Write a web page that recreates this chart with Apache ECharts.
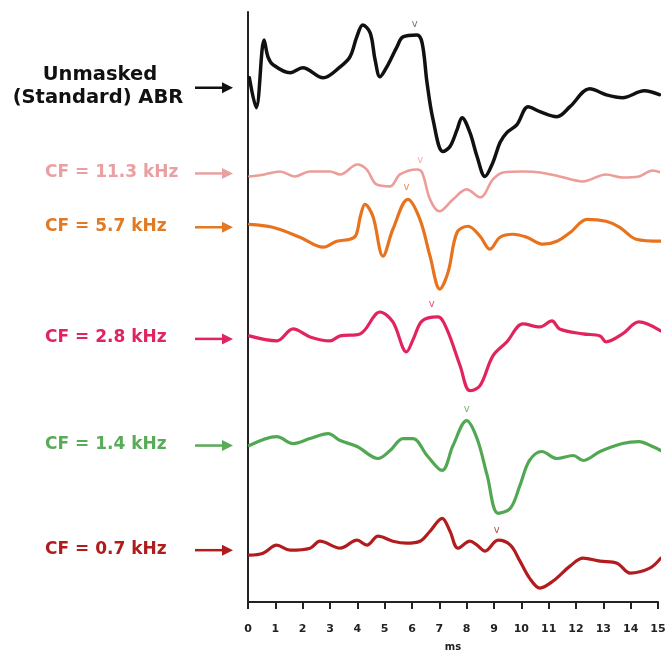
<!DOCTYPE html>
<html><head><meta charset="utf-8">
<script src="https://cdn.jsdelivr.net/npm/echarts@6/dist/echarts.min.js"></script>
<style>html,body{margin:0;padding:0;background:#fff}#c{width:672px;height:657px}</style>
</head><body><div id="c"></div>
<script>
// ---- data (time in ms, amplitude in arbitrary units, positive up) ----
var traceNames = ['Unmasked (Standard) ABR','CF = 11.3 kHz','CF = 5.7 kHz','CF = 2.8 kHz','CF = 1.4 kHz','CF = 0.7 kHz'];
var traceOffsets = [516, 430, 376, 264, 157, 52];
var traceColors = ['#111111','#ec9d99','#e8731f','#e2245e','#52a852','#b21c1e'];
var labelColors = ['#111111','#eaa0a3','#e07a25','#e0245f','#58ab58','#b01c1c'];

var t0 = [0.05,0.3,0.59,0.73,0.92,1.54,2.0,2.75,3.37,3.73,3.98,4.2,4.47,4.65,4.83,5.08,5.45,5.67,6.18,6.37,6.55,6.77,7.13,7.39,7.65,7.83,8.12,8.38,8.67,8.96,9.22,9.47,9.84,10.25,10.68,11.3,11.78,12.5,13.1,13.7,14.5,15.05];
var v0 = [10,-20,48,31,23,15,20,10,21,31,51,63,55,28,11,21,41,51,53,45,5,-32,-64,-59,-42,-30,-45,-69,-89,-75,-55,-45,-37,-19,-24,-29,-19,-1,-7,-10,-3,-7];

var t1 = [0.05,0.6,1.17,1.7,2.27,3.0,3.37,4.0,4.34,4.7,5.2,5.56,6.18,6.37,6.66,7.0,7.5,8.0,8.5,8.96,9.33,10.06,10.7,11.4,12.25,13.1,13.7,14.3,14.8,15.1];
var v1 = [-3,-1,2,-3,2,2,-1,9,4,-11,-13,-1,4,1,-26,-38,-26,-16,-24,-6,1,2,1,-3,-8,-1,-4,-3,3,1];

var t2 = [0.05,0.9,1.9,2.75,3.25,3.73,3.95,4.12,4.28,4.57,4.94,5.3,5.85,6.29,6.66,7.02,7.32,7.65,8.05,8.49,8.85,9.22,9.7,10.2,10.8,11.3,11.8,12.4,13.1,13.6,14.2,15.1];
var v2 = [3,0,-10,-20,-14,-12,-8,12,23,11,-29,-2,28,8,-29,-62,-45,-5,1,-9,-22,-10,-7,-10,-17,-14,-5,8,6,0,-12,-14];

var t3 = [0.05,1.05,1.65,2.27,3.0,3.37,4.1,4.83,5.3,5.8,6.05,6.37,6.95,7.27,7.76,8.12,8.49,8.96,9.47,10.06,10.68,11.12,11.4,12.25,12.88,13.1,13.7,14.3,15.1];
var v3 = [3,-2,10,2,-2,3,5,27,17,-13,0,18,22,10,-27,-52,-47,-17,-3,15,12,18,10,5,3,-3,5,17,8];

var t4 = [0.05,1.05,1.65,2.27,2.93,3.37,3.99,4.76,5.2,5.67,6.04,6.55,7.1,7.5,8.0,8.38,8.75,9.15,9.6,9.95,10.3,10.75,11.3,11.9,12.26,12.88,13.7,14.3,14.8,15.1];
var v4 = [0,9,2,7,12,5,-1,-13,-5,7,7,-10,-25,0,25,7,-30,-68,-63,-40,-15,-6,-13,-10,-15,-6,2,4,-1,-5];

var t5 = [0.05,0.55,1.05,1.54,2.27,2.63,3.37,3.99,4.35,4.76,5.3,5.8,6.29,6.66,7.1,7.39,7.68,8.12,8.38,8.67,9.15,9.6,9.95,10.3,10.68,11.16,11.78,12.26,12.88,13.5,13.98,14.7,15.1];
var v5 = [-5,-3,5,0,2,9,2,10,5,14,9,7,9,19,32,19,2,9,5,-1,10,5,-11,-28,-38,-31,-16,-8,-11,-13,-23,-18,-8];

var traceTimes = [t0,t1,t2,t3,t4,t5];
var traceValues = [v0,v1,v2,v3,v4,v5];

// wave V markers ("v") for each trace
var waveVTimes = [6.1, 6.3, 5.8, 6.72, 8.0, 9.1];
var waveVHeights = [64, 13, 40, 35, 36, 20];

var xTicks = [0,1,2,3,4,5,6,7,8,9,10,11,12,13,14,15];
var xAxisName = 'ms';

// ---- chart ----
var chart = echarts.init(document.getElementById('c'), null, {renderer:'canvas'});
var FONT = '"DejaVu Sans", sans-serif';
var series = [];
traceTimes.forEach(function(ts, i){
  series.push({
    type:'line', name: traceNames[i], clip:false, smooth:0.35, symbol:'none',
    lineStyle:{color: traceColors[i], width: i===0 ? 3.5 : (i===1 ? 2.6 : 3.2), cap:'round', join:'round'},
    data: ts.map(function(t, k){ return [t, traceValues[i][k] + traceOffsets[i]]; }),
    silent:true, z: 2
  });
});
series.push({
  type:'scatter', symbolSize:0, silent:true, clip:false, z:3,
  data: waveVTimes.map(function(t,i){
    return {value:[t, waveVHeights[i] + traceOffsets[i]],
      label:{show:true, formatter:'v', position:'inside', color: i===0 ? '#555' : traceColors[i],
        fontSize:10, fontWeight:'normal', fontFamily:FONT}};
  })
});

chart.setOption({
  animation:false,
  backgroundColor:'#fff',
  grid:{left:248, right:14, top:12, bottom:53, containLabel:false},
  xAxis:{type:'value', min:0, max:15, interval:1,
    name:xAxisName, nameLocation:'middle', nameGap:40,
    nameTextStyle:{fontFamily:FONT, fontSize:10, fontWeight:'bold', color:'#222'},
    axisLine:{show:true, onZero:false, lineStyle:{color:'#222', width:2}},
    axisTick:{show:true, length:7, lineStyle:{color:'#222', width:2}},
    axisLabel:{margin:22, fontFamily:FONT, fontSize:11, fontWeight:'bold', color:'#222',
      formatter:function(v){ return xTicks.indexOf(v) >= 0 ? String(v) : ''; }},
    splitLine:{show:false}},
  yAxis:{type:'value', min:0, max:592, show:true,
    axisLine:{show:true, onZero:false, lineStyle:{color:'#222', width:2}},
    axisTick:{show:false}, axisLabel:{show:false}, splitLine:{show:false}},
  series: series
});

// ---- side labels and arrows, placed at each trace's baseline ----
var graphics = [];
traceOffsets.forEach(function(off, i){
  var y = chart.convertToPixel({gridIndex:0}, [0, off])[1];
  var col = labelColors[i];
  var x0 = 195, x1 = 233;
  graphics.push({type:'line', silent:true, shape:{x1:x0, y1:y, x2:x1-9, y2:y}, style:{stroke:col, lineWidth:2.5}});
  graphics.push({type:'polygon', silent:true, shape:{points:[[x1-11,y-5.5],[x1,y],[x1-11,y+5.5]]}, style:{fill:col}});
  if (i === 0) {
    graphics.push({type:'text', silent:true, x:100, y:y-13, style:{text:'Unmasked', fill:col, font:'bold 19.5px "DejaVu Sans"', textAlign:'center', textVerticalAlign:'middle'}});
    graphics.push({type:'text', silent:true, x:98, y:y+10, style:{text:'(Standard) ABR', fill:col, font:'bold 19.5px "DejaVu Sans"', textAlign:'center', textVerticalAlign:'middle'}});
  } else {
    graphics.push({type:'text', silent:true, x:45, y:y-1, style:{text:traceNames[i], fill:col, font:'bold 17px "DejaVu Sans"', textAlign:'left', textVerticalAlign:'middle'}});
  }
});
chart.setOption({graphic: graphics});
</script>
</body></html>
